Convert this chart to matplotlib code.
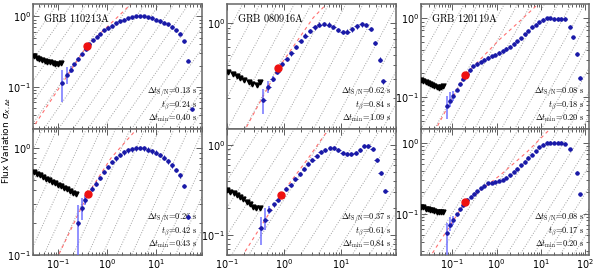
import numpy as np
import matplotlib
matplotlib.use("Agg")
import matplotlib.pyplot as plt

# GRB 110213A, top panel
a_lim_x = [0.0316, 0.0359, 0.0406, 0.0461, 0.0523, 0.0593, 0.0673, 0.0764, 0.0866, 0.0982, 0.111]
a_lim_y = [0.270, 0.259, 0.248, 0.240, 0.232, 0.227, 0.222, 0.217, 0.212, 0.210, 0.215]
a_x = [0.12, 0.148, 0.179, 0.212, 0.253, 0.305, 0.364, 0.43, 0.507, 0.61, 0.73, 0.88, 1.06, 1.28,
       1.55, 1.87, 2.26, 2.74, 3.3, 4.0, 4.84, 5.85, 7.07, 8.55, 10.3, 12.5, 15.1, 18.2, 22, 26.6,
       32.2, 38.9, 47, 56.9]
a_y = [0.112, 0.147, 0.174, 0.21, 0.248, 0.292, 0.344, 0.40, 0.457, 0.514, 0.567, 0.63, 0.684, 0.738,
       0.80, 0.851, 0.897, 0.94, 0.97, 1.0, 1.0, 1.0, 0.97, 0.95, 0.897, 0.86, 0.81, 0.77, 0.707, 0.64,
       0.567, 0.44, 0.235, 0.048]
a_elo = [0.06, 0.11, 0.155]
a_ehi = [0.17, 0.19, 0.20]
a_red = [0.39, 0.383]
a_fit_x = [0.028, 0.39, 1.76, 3.1]
a_fit_y = [0.0245, 0.383, 1.02, 1.5]

# GRB 110213A, bottom panel
b_lim_x = [0.0316, 0.0364, 0.0419, 0.0482, 0.0555, 0.064, 0.0736, 0.0847, 0.0975, 0.112, 0.129,
           0.149, 0.171, 0.197, 0.226]
b_lim_y = [0.596, 0.574, 0.555, 0.535, 0.516, 0.499, 0.482, 0.467, 0.452, 0.438, 0.424, 0.41,
           0.397, 0.383, 0.371]
b_x = [0.253, 0.30, 0.352, 0.41, 0.497, 0.60, 0.73, 0.88, 1.06, 1.28, 1.55, 1.87, 2.26, 2.74, 3.3,
       4.0, 4.84, 5.85, 7.07, 8.55, 10.3, 12.5, 15.1, 18.2, 22, 26.6, 32.2, 38.9, 47]
b_y = [0.198, 0.272, 0.325, 0.375, 0.417, 0.464, 0.524, 0.596, 0.663, 0.737, 0.80, 0.86, 0.91, 0.95,
       0.97, 0.99, 1.0, 0.99, 0.96, 0.93, 0.90, 0.86, 0.81, 0.75, 0.69, 0.62, 0.555, 0.44, 0.228]
b_elo = [0.05, 0.212, 0.29]
b_ehi = [0.29, 0.337, 0.36]
b_red = [0.41, 0.375]
b_fit_x = [0.09, 0.41, 1.2, 4.1]
b_fit_y = [0.09, 0.375, 0.8, 1.5]

# GRB 080916A, top panel
c_lim_x = [0.106, 0.125, 0.147, 0.172, 0.202, 0.238, 0.279, 0.328, 0.378]
c_lim_y = [0.35, 0.335, 0.316, 0.303, 0.291, 0.28, 0.271, 0.261, 0.283]
c_x = [0.43, 0.527, 0.63, 0.757, 0.916, 1.107, 1.33, 1.61, 1.94, 2.34, 2.82, 3.41, 4.11, 4.97, 6.0,
       7.24, 8.7, 10.5, 12.7, 15.3, 18.5, 22.6, 26.9, 32.5, 38.6, 47.3, 54]
c_y = [0.19, 0.25, 0.30, 0.35, 0.412, 0.46, 0.52, 0.596, 0.68, 0.76, 0.843, 0.908, 0.96, 0.98, 0.96,
       0.916, 0.86, 0.82, 0.83, 0.87, 0.93, 0.97, 0.956, 0.875, 0.65, 0.454, 0.285]
c_elo = [0.141, 0.22, 0.28]
c_ehi = [0.243, 0.285, 0.32]
c_red = [0.79, 0.377]
c_fit_x = [0.17, 0.79, 3.23, 5.5]
c_fit_y = [0.083, 0.377, 1.12, 1.5]

# GRB 080916A, bottom panel
d_lim_x = [0.101, 0.115, 0.131, 0.149, 0.17, 0.193, 0.22, 0.251, 0.285, 0.325, 0.37]
d_lim_y = [0.314, 0.301, 0.289, 0.277, 0.261, 0.248, 0.234, 0.218, 0.206, 0.197, 0.197]
d_x = [0.388, 0.468, 0.55, 0.664, 0.77, 0.88, 1.07, 1.3, 1.56, 1.89, 2.22, 2.61, 3.1, 3.7, 4.35,
       5.17, 6.3, 7.4, 8.8, 10.5, 12.5, 14.9, 17.8, 21.1, 25.2, 29.5, 35.2, 41.4, 48.6, 58.6]
d_y = [0.119, 0.147, 0.19, 0.218, 0.244, 0.281, 0.322, 0.363, 0.423, 0.48, 0.544, 0.618, 0.684,
       0.762, 0.83, 0.887, 0.927, 0.927, 0.887, 0.817, 0.80, 0.80, 0.817, 0.887, 0.98, 0.98, 0.90,
       0.684, 0.488, 0.309]
d_elo = [0.078, 0.114, 0.17]
d_ehi = [0.16, 0.20, 0.21]
d_red = [0.88, 0.281]
d_fit_x = [0.18, 0.88, 2.5, 6.0]
d_fit_y = [0.057, 0.281, 0.68, 1.5]

# GRB 120119A, top panel
e_lim_x = [0.020, 0.0225, 0.0253, 0.0283, 0.0318, 0.0357, 0.040, 0.045, 0.0505, 0.0567, 0.0637]
e_lim_y = [0.166, 0.16, 0.155, 0.15, 0.146, 0.142, 0.138, 0.134, 0.13, 0.134, 0.138]
e_x = [0.076, 0.090, 0.107, 0.127, 0.151, 0.174, 0.214, 0.254, 0.30, 0.358, 0.44, 0.531, 0.643,
       0.778, 0.937, 1.135, 1.37, 1.66, 2.0, 2.42, 2.92, 3.53, 4.28, 5.15, 6.24, 7.55, 9.1, 11.0,
       13.4, 16.1, 19.5, 23.5, 28.5, 34.6, 44.8, 53.2, 63.4, 75.2]
e_y = [0.0786, 0.091, 0.105, 0.125, 0.146, 0.17, 0.197, 0.223, 0.246, 0.264, 0.282, 0.299, 0.313,
       0.33, 0.345, 0.362, 0.384, 0.407, 0.435, 0.471, 0.508, 0.555, 0.623, 0.692, 0.763, 0.824,
       0.883, 0.944, 0.99, 0.99, 0.97, 0.97, 0.97, 0.97, 0.777, 0.571, 0.352, 0.176]
e_elo = [0.053, 0.075, 0.091]
e_ehi = [0.105, 0.116, 0.121]
e_red = [0.196, 0.191]
e_fit_x = [0.04, 0.196, 1.2, 2.84, 7.9]
e_fit_y = [0.037, 0.191, 0.544, 0.84, 1.43]

# GRB 120119A, bottom panel
f_lim_x = e_lim_x
f_lim_y = [0.126, 0.122, 0.118, 0.115, 0.113, 0.111, 0.108, 0.106, 0.105, 0.104, 0.104]
f_x = [0.076, 0.09, 0.107, 0.127, 0.151, 0.174, 0.22, 0.26, 0.31, 0.365, 0.44, 0.531, 0.643, 0.778,
       0.937, 1.135, 1.37, 1.66, 2.0, 2.42, 2.92, 3.53, 4.28, 5.15, 6.24, 7.55, 9.1, 11, 13.4, 16.1,
       19.5, 23.5, 28.5, 34.6, 44.8, 63.4, 75.2]
f_y = [0.053, 0.068, 0.082, 0.098, 0.116, 0.132, 0.156, 0.174, 0.191, 0.208, 0.227, 0.248, 0.267,
       0.275, 0.281, 0.291, 0.303, 0.32, 0.348, 0.389, 0.433, 0.482, 0.537, 0.611, 0.679, 0.766,
       0.871, 0.946, 1.0, 1.0, 1.0, 1.0, 1.0, 0.97, 0.806, 0.38, 0.187]
f_elo = [0.02, 0.056, 0.069]
f_ehi = [0.073, 0.091, 0.094]
f_red = [0.196, 0.145]
f_fit_x = [0.03, 0.196, 1.2, 4.8, 16]
f_fit_y = [0.023, 0.145, 0.348, 0.74, 1.57]

names = ["GRB 110213A", "GRB 080916A", "GRB 120119A"]
t_sn = ["0.13", "0.26", "0.62", "0.37", "0.08", "0.08"]
t_beta = ["0.24", "0.42", "0.84", "0.61", "0.18", "0.17"]
t_min = ["0.40", "0.43", "1.09", "0.84", "0.20", "0.20"]

panels = [
    (a_lim_x, a_lim_y, a_x, a_y, a_elo, a_ehi, a_red, a_fit_x, a_fit_y),
    (b_lim_x, b_lim_y, b_x, b_y, b_elo, b_ehi, b_red, b_fit_x, b_fit_y),
    (c_lim_x, c_lim_y, c_x, c_y, c_elo, c_ehi, c_red, c_fit_x, c_fit_y),
    (d_lim_x, d_lim_y, d_x, d_y, d_elo, d_ehi, d_red, d_fit_x, d_fit_y),
    (e_lim_x, e_lim_y, e_x, e_y, e_elo, e_ehi, e_red, e_fit_x, e_fit_y),
    (f_lim_x, f_lim_y, f_x, f_y, f_elo, f_ehi, f_red, f_fit_x, f_fit_y),
]

# axes boxes in pixels (left, right) per column and (top, bottom) per row
W, H = 598, 272
cols = [(33, 202), (227, 396), (421, 589)]
rows = [(4, 129), (129, 255)]
xlims = [(0.03, 90), (0.1, 90), (0.02, 120)]
ylims = [(0.025, 1.5), (0.1, 1.5), (0.102, 1.5), (0.06, 1.5), (0.04, 1.5), (0.026, 1.57)]

fig = plt.figure(figsize=(W / 100, H / 100), dpi=100)
guide = np.geomspace(1e-3, 1e3, 50)

for i, (lx, ly, x, y, elo, ehi, red, fx, fy) in enumerate(panels):
    col, row = i // 2, i % 2
    x0, x1 = cols[col]
    y0, y1 = rows[row]
    ax = fig.add_axes([x0 / W, 1 - y1 / H, (x1 - x0) / W, (y1 - y0) / H])
    ax.set_xscale("log")
    ax.set_yscale("log")

    # grey sigma ~ dt guide lines, factor 2 apart
    for k in range(-20, 20):
        ax.plot(guide, 2.0 ** k * guide, ls=":", color="#a0a0a0", lw=0.7, zorder=1)

    ax.plot(fx, fy, ls=(0, (3, 3)), color="#ff7070", lw=0.8, zorder=2)

    ax.plot(lx, ly, "v", color="k", ms=3.5, zorder=3)

    x = np.array(x)
    y = np.array(y)
    n = len(elo)
    ax.errorbar(x[:n], y[:n], yerr=[y[:n] - np.array(elo), np.array(ehi) - y[:n]],
                fmt="none", ecolor="#6a6aff", elinewidth=1.3, alpha=0.8, zorder=3)
    ax.errorbar(x, y, xerr=[x * 0.09, x * 0.1], yerr=[y * 0.05, y * 0.05], fmt="o",
                color="#1a1aa8", ms=2.2, elinewidth=0.7, capsize=0, zorder=4)
    ax.plot(red[0], red[1], "o", color="#ee1111", ms=5, zorder=5)

    ax.set_xlim(*xlims[col])
    ax.set_ylim(*ylims[i])

    ax.tick_params(which="both", direction="in", top=True, right=True, labelsize=7,
                   width=0.6, color="#444444", pad=1.5)
    ax.tick_params(which="major", length=4)
    ax.tick_params(which="minor", length=2)
    for s in ax.spines.values():
        s.set_color("#666666")
        s.set_linewidth(1.1)
    if row == 0:
        ax.tick_params(labelbottom=False)
        ax.text(0.06, 0.89, r"$\mathrm{%s}$" % names[col].replace(" ", r"\ "),
                transform=ax.transAxes, fontsize=7.5, math_fontfamily="cm", va="center")

    hgt = y1 - y0
    lines = [r"$\Delta t_{\rm S/N}\!=\!%s\ \mathrm{s}$" % t_sn[i],
             r"$t_\beta\!=\!%s\ \mathrm{s}$" % t_beta[i],
             r"$\Delta t_{\rm min}\!=\!%s\ \mathrm{s}$" % t_min[i]]
    for txt, off in zip(lines, [36, 23.5, 11]):
        ax.text(0.97, off / hgt, txt, transform=ax.transAxes, ha="right", va="center",
                fontsize=6, math_fontfamily="cm")

fig.text(6.5 / W, 1 - 140 / H, r"Flux Variation $\sigma_{X,\Delta t}$", rotation=90,
         ha="center", va="center", fontsize=6.5)

fig.savefig("out.png", dpi=100)
